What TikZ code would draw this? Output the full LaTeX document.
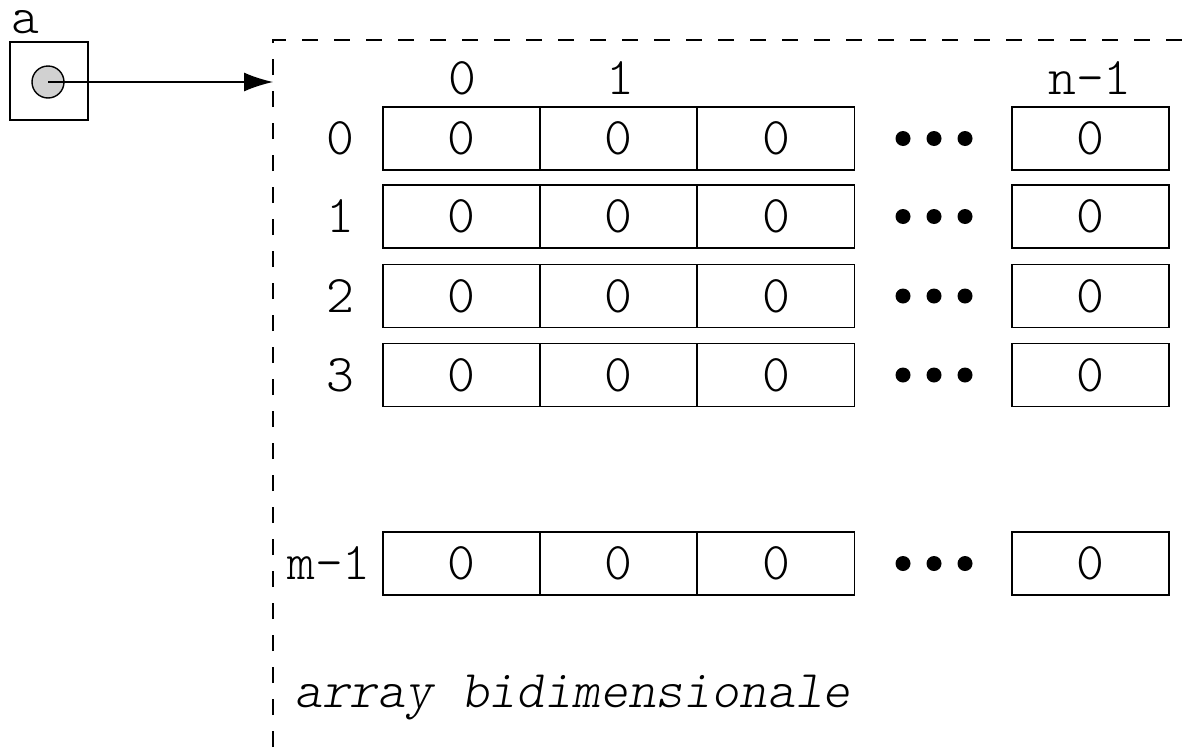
\documentclass[tikz,border=0pt]{standalone}
\usepackage{fontspec}
\setmonofont{Latin Modern Mono Light}
\usetikzlibrary{arrows.meta}
\newcommand{\txtfont}{\ttfamily\fontsize{53}{58}\selectfont}
\tikzset{
  lw/.style={line width=1.4pt},
  cell/.style={draw, lw, minimum width=157pt, minimum height=63pt, inner sep=0pt, font=\txtfont},
  lbl/.style={inner sep=0pt, font=\txtfont},
  dot/.style={circle, fill=black, minimum size=15pt, inner sep=0pt},
  frame/.style={lw, dash pattern=on 16pt off 16pt},
}
\begin{document}
\begin{tikzpicture}[x=1pt,y=-1pt]
\useasboundingbox (0,0) rectangle (1190,747);
% pointer variable a
\node[draw, lw, minimum width=78pt, minimum height=78pt, inner sep=0pt] (abox) at (49,81) {};
\node[lbl, anchor=base] (alab) at (25,33) {a};
\node[circle, draw, lw, fill=black!18, minimum size=32pt, inner sep=0pt] (ptr) at (48,82) {};
% frame
\coordinate (fbot) at (273,747);
\coordinate (fcorner) at (273,40);
\coordinate (fright) at (1190,40);
\coordinate (target) at (273,82);
\draw[frame] (fbot) -- (fcorner) -- (fright);
\draw[lw, -{Latex[length=29pt,width=19pt]}] (ptr.center) -- (target);
% column indices
\node[lbl] (c0) at (462,78) {0};
\node[lbl] (c1) at (620,78) {1};
\node[lbl] (cn) at (1090,78) {n-1};
% rows
\foreach \r/\y/\t in {0/138.5/0, 1/216.5/1, 2/296/2, 3/375/3} {
  \node[lbl] (r\r) at (340,\y) {\t};
  \node[cell] (c\r a) at (461.5,\y) {0};
  \node[cell] (c\r b) at (618.5,\y) {0};
  \node[cell] (c\r c) at (776,\y) {0};
  \node[cell] (c\r d) at (1090.5,\y) {0};
  \node[dot] (d\r a) at (903,\y) {};
  \node[dot] (d\r b) at (934,\y) {};
  \node[dot] (d\r c) at (965,\y) {};
}
\node[lbl] (rm) at (329,563.5) {m-1};
\node[cell] (cma) at (461.5,563.5) {0};
\node[cell] (cmb) at (618.5,563.5) {0};
\node[cell] (cmc) at (776,563.5) {0};
\node[cell] (cmd) at (1090.5,563.5) {0};
\node[dot] (dma) at (903,563.5) {};
\node[dot] (dmb) at (934,563.5) {};
\node[dot] (dmc) at (965,563.5) {};
% caption
\node[lbl, anchor=base west, font=\txtfont\itshape] (cap) at (294,707) {array bidimensionale};
\end{tikzpicture}
\end{document}
